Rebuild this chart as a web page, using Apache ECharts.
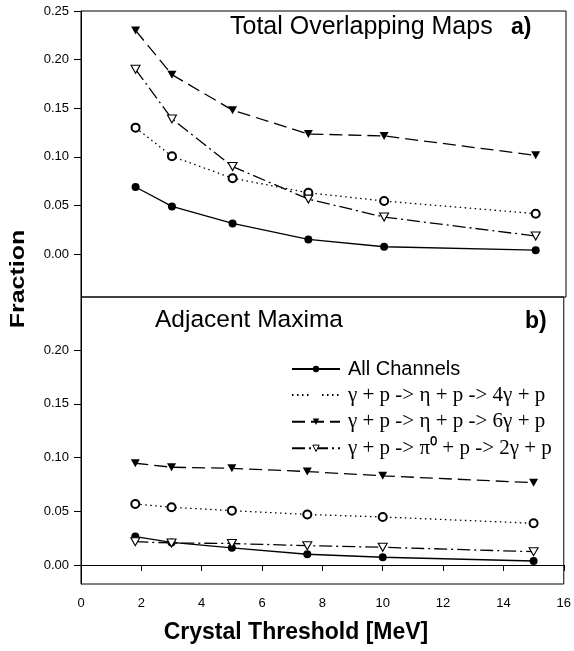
<!DOCTYPE html>
<html>
<head>
<meta charset="utf-8">
<script src="https://cdn.jsdelivr.net/npm/echarts@6/dist/echarts.min.js"></script>
<style>html,body{margin:0;padding:0;background:#fff}#c{width:574px;height:651px}</style>
</head>
<body>
<div id="c"></div>
<script>
// ---- data ----
var thresholds = [1.8, 3, 5, 7.5, 10, 15];
var seriesNames = ['All Channels', 'γ + p -> η + p -> 4γ + p', 'γ + p -> η + p -> 6γ + p', 'γ + p -> π⁰ + p -> 2γ + p'];
// panel a) Total Overlapping Maps
var totalAll = [0.069, 0.049, 0.0315, 0.015, 0.0075, 0.004];
var total4g  = [0.130, 0.1005, 0.078, 0.063, 0.0545, 0.0415];
var total6g  = [0.230, 0.1845, 0.148, 0.1235, 0.1215, 0.1015];
var total2g  = [0.190, 0.139, 0.090, 0.0565, 0.038, 0.0185];
// panel b) Adjacent Maxima
var adjAll = [0.0265, 0.021, 0.016, 0.010, 0.0072, 0.0037];
var adj4g  = [0.0568, 0.0537, 0.0506, 0.047, 0.0447, 0.0388];
var adj6g  = [0.0947, 0.091, 0.090, 0.087, 0.083, 0.0766];
var adj2g  = [0.0217, 0.0205, 0.020, 0.018, 0.0165, 0.0124];
// tick labels
var yTicksTop = [0, 0.05, 0.10, 0.15, 0.20, 0.25];
var yTicksBottom = [0, 0.05, 0.10, 0.15, 0.20];

function pairs(xs, ys){ return xs.map(function(x,i){ return [x, ys[i]]; }); }

var styles = [
  {symbol:'circle', symbolSize:8, itemStyle:{color:'#000'}, lineStyle:{color:'#000', width:1.3, type:'solid'}},
  {symbol:'emptyCircle', symbolSize:8, itemStyle:{color:'#000', borderWidth:1.2}, lineStyle:{color:'#000', width:1.3, type:[1.5,3.5]}},
  {symbol:'triangle', symbolSize:[9,8], symbolRotate:180, itemStyle:{color:'#000'}, lineStyle:{color:'#000', width:1.3, type:[13,6]}},
  {symbol:'triangle', symbolSize:[9,8], symbolRotate:180, itemStyle:{color:'#fff', borderColor:'#000', borderWidth:1.1}, lineStyle:{color:'#000', width:1.3, type:[13,4,2,4]}}
];
var legendItemStyles = [
  {color:'#000', borderWidth:0},
  {color:'#fff', borderColor:'#000', borderWidth:1},
  {color:'#000', borderWidth:0},
  {color:'#fff', borderColor:'#000', borderWidth:1}
];

function mk(name, idx, data, s){
  var st = styles[s];
  return {
    name: name, type:'line', xAxisIndex: idx, yAxisIndex: idx,
    data: pairs(thresholds, data),
    symbol: st.symbol, symbolSize: st.symbolSize, symbolRotate: st.symbolRotate || 0,
    itemStyle: st.itemStyle, lineStyle: st.lineStyle,
    showAllSymbol: true, animation:false, z: 3 + s
  };
}

var labelFont = {fontFamily:'Liberation Sans, Arial, sans-serif', fontSize:13, color:'#000'};

var option = {
  animation:false,
  backgroundColor:'#fff',
  grid:[
    {left:81, top:11, width:485, height:286, show:true, borderColor:'#000', borderWidth:1, backgroundColor:'transparent'},
    {left:81, top:297, width:485, height:287, show:true, borderColor:'#000', borderWidth:1, backgroundColor:'transparent'}
  ],
  xAxis:[
    {type:'value', gridIndex:0, min:0, max:16, interval:2, axisLine:{show:false}, axisTick:{show:false}, axisLabel:{show:false}, splitLine:{show:false}},
    {type:'value', gridIndex:1, min:0, max:16, interval:2,
     axisLine:{lineStyle:{color:'#000'}}, axisTick:{inside:false, length:6, lineStyle:{color:'#000'}},
     axisLabel:Object.assign({margin:13}, labelFont), splitLine:{show:false}}
  ],
  yAxis:[
    {type:'value', gridIndex:0, min:-0.0442, max:0.25,
     axisLine:{show:true, lineStyle:{color:'#000'}},
     axisTick:{show:true, length:7, customValues:yTicksTop, lineStyle:{color:'#000'}},
     axisLabel:Object.assign({margin:12, customValues:yTicksTop, formatter:function(v){return v.toFixed(2);}}, labelFont),
     splitLine:{show:false}},
    {type:'value', gridIndex:1, min:-0.0177, max:0.2495,
     axisLine:{show:true, lineStyle:{color:'#000'}},
     axisTick:{show:true, length:7, customValues:yTicksBottom, lineStyle:{color:'#000'}},
     axisLabel:Object.assign({margin:12, customValues:yTicksBottom, formatter:function(v){return v.toFixed(2);}}, labelFont),
     splitLine:{show:false}}
  ],
  legend:{
    left:291, top:359, orient:'vertical', padding:0, itemWidth:48, itemHeight:8, itemGap:5.6,
    data: seriesNames.map(function(n, i){ return {name:n, itemStyle:legendItemStyles[i]}; }),
    selectedMode:false,
    formatter:function(n){
      if (n === seriesNames[0]) return '{a|' + n + '}';
      return '{b|' + n + '}';
    },
    textStyle:{
      padding:[0,0,0,3],
      rich:{
        a:{fontFamily:'Liberation Sans, Arial, sans-serif', fontSize:20, color:'#000', height:21},
        b:{fontFamily:'Liberation Serif, Times New Roman, serif', fontSize:21, color:'#000', height:21}
      }
    }
  },
  graphic:[
    {type:'text', left:230, top:15, style:{text:'Total Overlapping Maps', font:'25px "Liberation Sans", Arial, sans-serif', fill:'#000'}},
    {type:'text', left:511, top:16, style:{text:'a)', font:'bold 23px "Liberation Sans", Arial, sans-serif', fill:'#000'}},
    {type:'text', left:155, top:308, style:{text:'Adjacent Maxima', font:'24.5px "Liberation Sans", Arial, sans-serif', fill:'#000'}},
    {type:'text', left:525, top:310, style:{text:'b)', font:'bold 23px "Liberation Sans", Arial, sans-serif', fill:'#000'}},
    {type:'text', x:18.5, y:279, rotation:Math.PI/2, scaleY:0.8, style:{text:'Fraction', font:'bold 25px "Liberation Sans", Arial, sans-serif', fill:'#000', textAlign:'center', textVerticalAlign:'middle'}},
    {type:'text', x:296, y:633, style:{text:'Crystal Threshold [MeV]', font:'bold 23px "Liberation Sans", Arial, sans-serif', fill:'#000', textAlign:'center', textVerticalAlign:'middle'}}
  ],
  series:[
    mk(seriesNames[0], 0, totalAll, 0),
    mk(seriesNames[1], 0, total4g, 1),
    mk(seriesNames[2], 0, total6g, 2),
    mk(seriesNames[3], 0, total2g, 3),
    mk(seriesNames[0], 1, adjAll, 0),
    mk(seriesNames[1], 1, adj4g, 1),
    mk(seriesNames[2], 1, adj6g, 2),
    mk(seriesNames[3], 1, adj2g, 3)
  ]
};
var chart = echarts.init(document.getElementById('c'), null, {renderer:'canvas'});
chart.setOption(option);
</script>
</body>
</html>
